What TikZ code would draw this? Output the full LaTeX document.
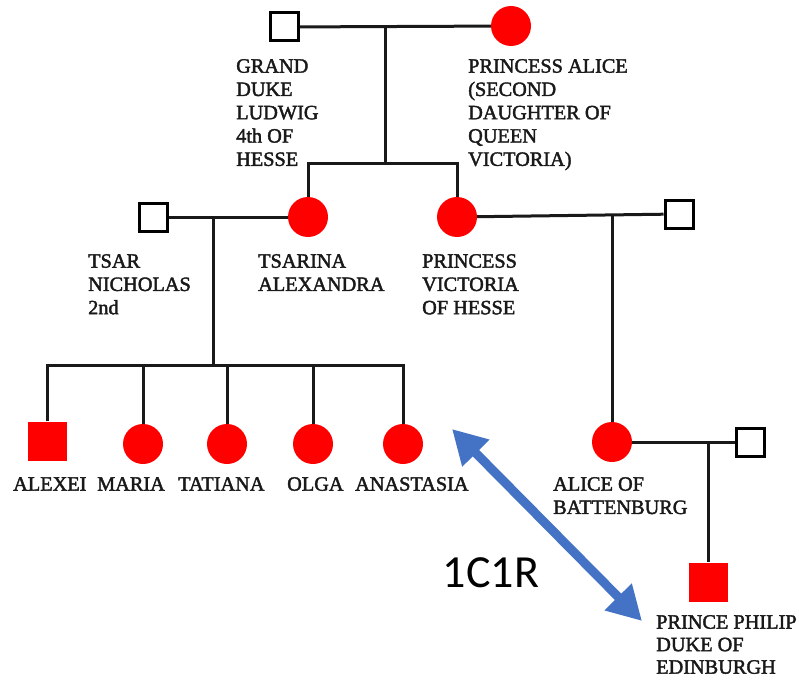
\documentclass[tikz,border=0pt]{standalone}
\usepackage{fontspec}
\setmainfont{Liberation Serif}
\newfontfamily\lblfont{Liberation Serif}[FakeBold=2]
\newfontfamily\arrfont{Carlito}
\usetikzlibrary{arrows.meta}
\begin{document}
\begin{tikzpicture}[x=1pt,y=-1pt,
  fem/.style={circle,fill=red,minimum size=40pt,inner sep=0pt},
  mal/.style={rectangle,draw=black,line width=3pt,fill=white,minimum size=28pt,inner sep=0pt},
  amal/.style={rectangle,fill=red,minimum size=39pt,inner sep=0pt},
  lbl/.style={anchor=north west,inner sep=0pt,align=left,text=black!90,
    font=\lblfont\fontsize{20.3}{23.3}\selectfont},
  ln/.style={line width=3pt,black!90},
  rel/.style={line width=9pt,draw={rgb,255:red,68;green,114;blue,196},
    {Triangle[length=34pt,width=36pt]}-{Triangle[length=34pt,width=36pt]}}]
\useasboundingbox (0,0) rectangle (799,682);
% generation 1
\node[mal] (gd) at (284,27) {};
\node[fem] (pa) at (511,26) {};
\coordinate (j1) at (385,27);
\coordinate (j1b) at (385,163);
% generation 2
\node[fem] (tz) at (308,217) {};
\node[fem] (pv) at (457,217) {};
\node[mal] (tn) at (153,217) {};
\node[mal] (vh) at (679,214) {};
\coordinate (j2) at (213,217);
\coordinate (j2b) at (213,365);
\coordinate (j3) at (612,214);
% generation 3
\node[amal] (alx) at (47,441) {};
\node[fem] (mar) at (143,444) {};
\node[fem] (tat) at (227,444) {};
\node[fem] (olg) at (313,444) {};
\node[fem] (ana) at (403,444) {};
\node[fem] (ab) at (612,442) {};
\node[mal] (ah) at (750,442) {};
\coordinate (j4) at (708,442);
% generation 4
\node[amal] (pp) at (708,582) {};
% connectors
\draw[ln] (gd) -- (pa);
\draw[ln] (j1) -- (j1b);
\draw[ln] (tz.north) |- (j1b) -| (pv.north);
\draw[ln] (tn) -- (tz);
\draw[ln] (pv) -- (vh);
\draw[ln] (j2) -- (j2b);
\draw[ln] (alx.north) |- (j2b) -| (ana.north);
\draw[ln] (mar.north) -- (mar.north |- j2b);
\draw[ln] (tat.north) -- (tat.north |- j2b);
\draw[ln] (olg.north) -- (olg.north |- j2b);
\draw[ln] (j3) -- (ab.north);
\draw[ln] (ab) -- (ah);
\draw[ln] (j4) -- (pp.north);
% labels
\node[lbl] (gdl) at (236,59) {GRAND\\DUKE\\LUDWIG\\4th OF\\HESSE};
\node[lbl] (pal) at (468,59) {PRINCESS ALICE\\(SECOND\\DAUGHTER OF\\QUEEN\\VICTORIA)};
\node[lbl] (tnl) at (88,254) {TSAR\\NICHOLAS\\2nd};
\node[lbl] (tzl) at (258,254) {TSARINA\\ALEXANDRA};
\node[lbl] (pvl) at (422,254) {PRINCESS\\VICTORIA\\OF HESSE};
\node[lbl] (alxl) at (13,477) {ALEXEI};
\node[lbl] (marl) at (97,477) {MARIA};
\node[lbl] (tatl) at (178,477) {TATIANA};
\node[lbl] (olgl) at (287,477) {OLGA};
\node[lbl] (anal) at (355,477) {ANASTASIA};
\node[lbl] (abl) at (553,477) {ALICE OF\\BATTENBURG};
\node[lbl,font=\lblfont\fontsize{20.3}{22.5}\selectfont] (ppl) at (656,615) {PRINCE PHILIP\\DUKE OF\\EDINBURGH};
% relationship arrow
\coordinate (r1) at (452,429);
\coordinate (r2) at (642,621);
\draw[rel] (r1) -- (r2);
\node[font=\arrfont\fontsize{46}{50}\selectfont,inner sep=0pt] (cr) at (491,573) {1C1R};
\end{tikzpicture}
\end{document}
